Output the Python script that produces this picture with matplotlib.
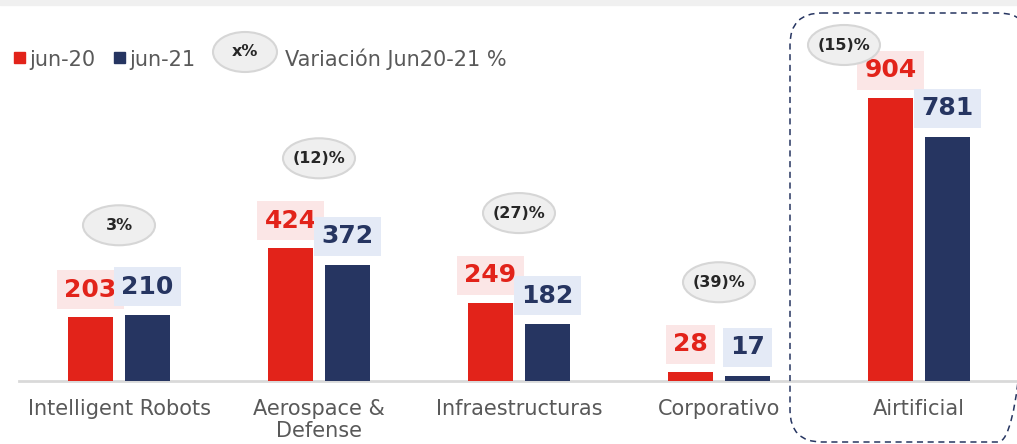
import matplotlib.pyplot as plt
from matplotlib.patches import Ellipse, FancyBboxPatch, Rectangle
from matplotlib.transforms import Affine2D
import numpy as np

# Data
categories = ["Intelligent Robots", "Aerospace &\nDefense", "Infraestructuras", "Corporativo", "Airtificial"]
jun20 = [203, 424, 249, 28, 904]
jun21 = [210, 372, 182, 17, 781]
variation = ["3%", "(12)%", "(27)%", "(39)%", "(15)%"]
series_names = ["jun-20", "jun-21"]
legend_note = "Variación Jun20-21 %"

# Style
RED = "#e2231a"
NAVY = "#263561"
PINK = "#fbe6e6"
LIGHTBLUE = "#e4eaf6"
GREY_TXT = "#595959"
BUBBLE_FC = "#efefef"
BUBBLE_EC = "#d6d6d6"
plt.rcParams['font.family'] = ['DejaVu Sans']

W, H = 1017, 444
X_PX = 200.0      # pixels per category
Y_PX = 0.313      # pixels per unit
X0_PX, BASE_PX = 119, 381

fig = plt.figure(figsize=(W / 100, H / 100), dpi=100)
ax = fig.add_axes([0, 0, 1, 1])
ax.set_xlim(-X0_PX / X_PX, (W - X0_PX) / X_PX)
ax.set_ylim(-(H - BASE_PX) / Y_PX, BASE_PX / Y_PX)
ax.axis('off')

# pixel coordinates (origin top-left) -> figure
pix = Affine2D().scale(1 / W, -1 / H).translate(0, 1) + fig.transFigure

# light grey strip on top
fig.patches.append(Rectangle((0, 0), W, 5, transform=pix, color="#f0f0f0", zorder=0))

x = np.arange(len(categories))
bw = 45 / X_PX
off = 28.5 / X_PX

ax.plot([-100 / X_PX, ax.get_xlim()[1]], [0, 0], color="#d9d9d9", lw=2, zorder=1)
ax.bar(x - off, jun20, width=bw, color=RED, zorder=2)
ax.bar(x + off, jun21, width=bw, color=NAVY, zorder=2)

for xi, a, b in zip(x, jun20, jun21):
    ax.annotate(str(a), (xi - off, a), xytext=(0, 20), textcoords="offset points",
                ha="center", va="center", fontsize=18, fontweight="bold", color=RED,
                bbox=dict(boxstyle="square,pad=0.3", fc=PINK, ec="none"), zorder=3)
    ax.annotate(str(b), (xi + off, b), xytext=(0, 20.5), textcoords="offset points",
                ha="center", va="center", fontsize=18, fontweight="bold", color=NAVY,
                bbox=dict(boxstyle="square,pad=0.3", fc=LIGHTBLUE, ec="none"), zorder=4)

# variation bubbles
bub_w, bub_h = 72 / X_PX, 40 / Y_PX
ceiling = (BASE_PX - 45) / Y_PX
for xi, a, b, txt in zip(x, jun20, jun21, variation):
    by = max(a, b) + 90 / Y_PX
    bx = xi
    if by > ceiling:
        by = ceiling
        bx = xi - 75 / X_PX
    ax.add_patch(Ellipse((bx, by), bub_w, bub_h, fc=BUBBLE_FC, ec=BUBBLE_EC, lw=1.5, zorder=3))
    ax.text(bx, by, txt, ha="center", va="center", fontsize=11.5, fontweight="bold",
            color="#262626", zorder=4)

# category labels
for xi, lab in zip(x, categories):
    ax.text(xi, -18 / Y_PX, lab, ha="center", va="top", fontsize=15, color=GREY_TXT,
            linespacing=1.15)

# dashed highlight around last group
fig.patches.append(FancyBboxPatch((790, 13), 240, 429,
                                  boxstyle="round,pad=0,rounding_size=32",
                                  transform=pix, fill=False, ec=NAVY,
                                  ls=(0, (4, 3)), lw=1.1, zorder=1))

# legend
for sx, name, col in [(14, series_names[0], RED), (114, series_names[1], NAVY)]:
    fig.patches.append(Rectangle((sx, 52), 11, 11, transform=pix, color=col))
    fig.text(sx + 15, 66, name, ha="left", va="baseline", fontsize=15, color=GREY_TXT,
             transform=pix)
fig.patches.append(Ellipse((245, 52), 64, 40, transform=pix,
                           fc=BUBBLE_FC, ec=BUBBLE_EC, lw=1.5))
fig.text(245, 52, "x%", ha="center", va="center", fontsize=11.5,
         fontweight="bold", color="#262626", transform=pix)
fig.text(285, 66, legend_note, ha="left", va="baseline", fontsize=15, color=GREY_TXT,
         transform=pix)

fig.savefig("out.png", dpi=100)
